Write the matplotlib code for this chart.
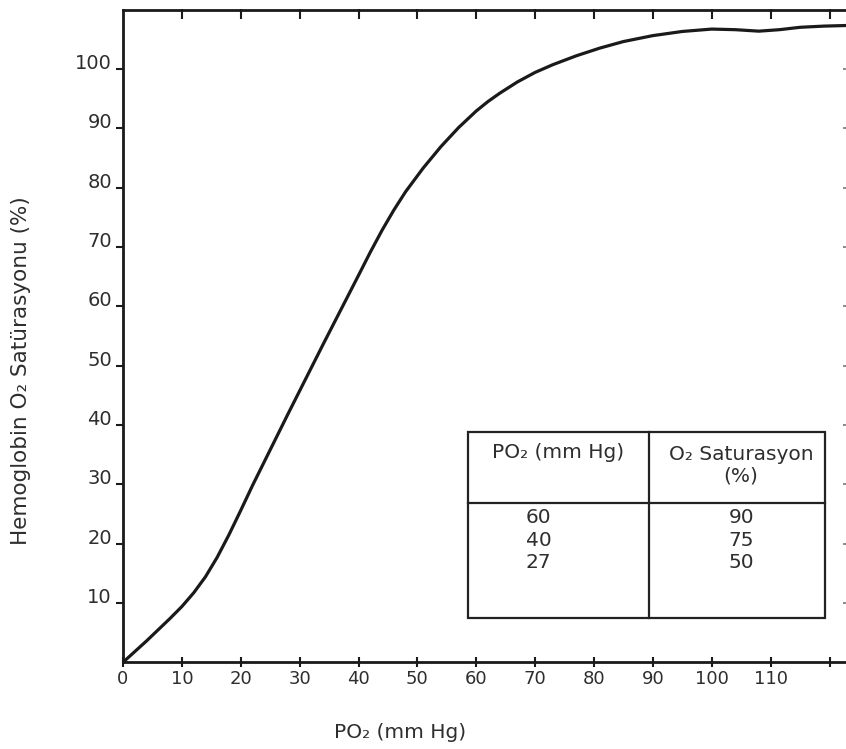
import matplotlib
matplotlib.use('Agg')
import matplotlib.pyplot as plt

plt.rcParams['font.family'] = ['DejaVu Sans']

# curve
po2 = [0, 2, 4, 6, 8, 10, 12, 14, 16, 18, 20, 22, 25, 28, 31, 34, 37, 40, 42, 44, 46, 48,
       51, 54, 57, 60, 62, 64, 67, 70, 73, 77, 81, 85, 90, 95, 100, 104, 108, 111.5, 115, 119, 122.8]
sat = [0, 1.8, 3.6, 5.5, 7.4, 9.4, 11.7, 14.4, 17.7, 21.5, 25.6, 29.8, 35.8, 41.8, 47.7, 53.6, 59.4, 65.2, 69.1, 72.8, 76.2, 79.3,
       83.3, 86.9, 90.1, 92.9, 94.5, 95.9, 97.8, 99.4, 100.7, 102.2, 103.5, 104.6, 105.6, 106.3, 106.7, 106.6, 106.35, 106.6, 107, 107.2, 107.3]

xticks = list(range(0, 121, 10))
xtick_labels = [str(v) if v <= 110 else '' for v in xticks]
yticks = list(range(10, 101, 10))

table_header = ['PO₂ (mm Hg)', 'O₂ Saturasyon\n(%)']
table_po2 = ['60', '40', '27']
table_sat = ['90', '75', '50']

ink = '#1a1a1a'
txt = '#2e2e2e'

fig = plt.figure(figsize=(8.46, 7.49), dpi=100)
W, H = 846, 749
x0, x1, ytop, ybot = 123, 846, 9.5, 662.3
ax = fig.add_axes([x0 / W, (H - ybot) / H, (x1 - x0) / W, (ybot - ytop) / H])

ax.plot(po2, sat, color=ink, lw=2.3, solid_capstyle='round', solid_joinstyle='round')
ax.set_xlim(0, 122.8)
ax.set_ylim(0, 110)

for s in ['left', 'bottom', 'top']:
    ax.spines[s].set_linewidth(2.0)
    ax.spines[s].set_color(ink)
ax.spines['right'].set_visible(False)

ax.set_xticks(xticks)
ax.set_xticklabels(xtick_labels)
ax.set_yticks(yticks)
ax.tick_params(axis='x', which='both', direction='inout', length=7, width=1.5, color=ink,
               labelsize=13, labelcolor=txt, pad=2)
ax.tick_params(axis='y', direction='out', length=5, width=1.5, color=ink,
               labelsize=14, labelcolor=txt, pad=3)
for lab in ax.get_yticklabels():
    lab.set_verticalalignment('baseline')

# top ticks point inward, right edge only has faint dots
sec = ax.secondary_xaxis('top')
sec.set_xticks(xticks[1:])
sec.tick_params(direction='in', length=7, width=1.5, color=ink, labeltop=False)
sec.spines['top'].set_visible(False)
secy = ax.secondary_yaxis('right')
secy.set_yticks(yticks)
secy.tick_params(direction='in', length=2, width=1.2, color='#777777', labelright=False)
secy.spines['right'].set_visible(False)

# inset table
tx0, tx1, txm = 58.6, 119.2, 89.3
ty0, ty1, tym = 7.5, 38.8, 26.8
ax.add_patch(plt.Rectangle((tx0, ty0), tx1 - tx0, ty1 - ty0, fill=False, ec='#222222', lw=1.6, zorder=3))
ax.plot([txm, txm], [ty0, ty1], color='#222222', lw=1.6, zorder=3)
ax.plot([tx0, tx1], [tym, tym], color='#222222', lw=1.6, zorder=3)
ax.text((tx0 + txm) / 2, 35.3, table_header[0], ha='center', va='center', fontsize=14.5, color=txt)
ax.text((txm + tx1) / 2 + 0.7, 33.2, table_header[1], ha='center', va='center', fontsize=14.5,
        color=txt, linespacing=1.15)
row_y = [24.4, 20.6, 16.9]
for y, a, b in zip(row_y, table_po2, table_sat):
    ax.text(70.6, y, a, ha='center', va='center', fontsize=14.5, color=txt)
    ax.text(105.0, y, b, ha='center', va='center', fontsize=14.5, color=txt)

fig.text(400 / W, 1 - 733 / H, 'PO₂ (mm Hg)', ha='center', va='center', fontsize=14.5, color=txt)
fig.text(21 / W, 1 - 371 / H, 'Hemoglobin O₂ Satürasyonu (%)', ha='center', va='center',
         rotation=90, fontsize=15.5, color=txt)

fig.savefig('out.png', dpi=100)
